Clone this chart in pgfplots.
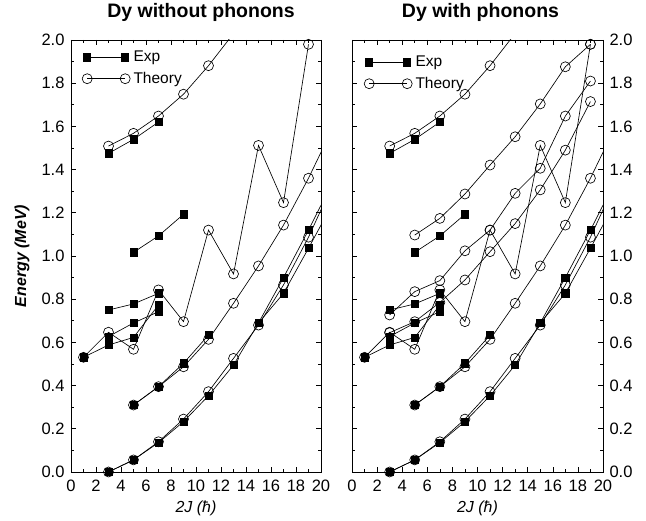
\documentclass[border=0pt]{standalone}
\usepackage{fontspec}
\setmainfont{Liberation Sans}
\usepackage{pgfplots}
\pgfplotsset{compat=1.18}

\pgfplotsset{
  th/.style={black, line width=0.65pt, mark=o, mark size=5pt, mark options={solid, line width=0.65pt}},
  ex/.style={black, line width=0.65pt, mark=square*, mark size=3.6pt, mark options={solid, fill=black}},
  ext/.style={black, line width=0.65pt, no marks},
  panel/.style={
    scale only axis, width=250pt, height=432pt,
    xmin=0, xmax=20, ymin=0, ymax=2,
    xtick={0,2,4,6,8,10,12,14,16,18,20}, minor x tick num=1,
    ytick={0,0.2,0.4,0.6,0.8,1.0,1.2,1.4,1.6,1.8,2.0}, minor y tick num=1,
    tick align=inside, tick pos=both,
    major tick length=5pt, minor tick length=3pt,
    every tick/.style={black, line width=0.6pt},
    axis line style={line width=0.8pt},
    clip mode=individual,
    /pgf/number format/assume math mode=true,
    yticklabel={\pgfmathprintnumber[fixed,fixed zerofill,precision=1,assume math mode=true]{\tick}},
    xticklabel={\pgfmathprintnumber[assume math mode=true]{\tick}},
    ticklabel style={font=\fontsize{16.5}{16.5}\selectfont},
    xticklabel style={anchor=base, yshift=-20pt},
    title style={font=\fontsize{19.5}{20}\selectfont\bfseries, at={(axis description cs:0.5,1)}, anchor=base, yshift=16pt},
    xlabel={\itshape 2J (ħ)},
    xlabel style={font=\fontsize{16}{16}\selectfont, at={(axis description cs:0.5,-0.0949)}, anchor=base},
    legend image code/.code={\draw[##1] plot coordinates {(0pt,0pt) (38pt,0pt)}; \path (44pt,0pt);},
    legend style={draw=none, fill=none, font=\fontsize{15.5}{17}\selectfont, anchor=north west, row sep=5pt},
    legend cell align=left,
  }
}

\begin{document}
\begin{tikzpicture}
\path (-71pt,-49pt) rectangle (575pt,472pt);

% ---------------- Left panel ----------------
\begin{axis}[panel, at={(0pt,0pt)}, anchor=south west,
  title={Dy without phonons}, title style={xshift=5pt},
  ylabel={\bfseries\itshape Energy (MeV)},
  ylabel style={font=\fontsize{16}{16}\selectfont, at={(axis description cs:-0.196,0.5)}, anchor=center},
  yticklabel style={xshift=-3pt},
  legend style={at={(axis description cs:0,1)}, xshift=8pt, yshift=-7pt},
]
\addlegendimage{ex}\addlegendentry{Exp}
\addlegendimage{th}\addlegendentry{Theory}
% theory
\addplot[th, forget plot] coordinates {(3,0) (5,0.056) (7,0.14) (9,0.245) (11,0.372) (13,0.526) (15,0.68) (17,0.866) (19,1.087)};
\addplot[ext, forget plot] coordinates {(19,1.087) (21,1.34)};
\addplot[th, forget plot] coordinates {(5,0.31) (7,0.395) (9,0.487) (11,0.614) (13,0.781) (15,0.954) (17,1.143) (19,1.36)};
\addplot[ext, forget plot] coordinates {(19,1.36) (21,1.6)};
\addplot[th, forget plot] coordinates {(3,1.509) (5,1.568) (7,1.648) (9,1.749) (11,1.881)};
\addplot[ext, forget plot] coordinates {(11,1.881) (13,2.03)};
\addplot[th, forget plot] coordinates {(1,0.531) (3,0.647) (5,0.568) (7,0.843) (9,0.696) (11,1.12) (13,0.917) (15,1.512) (17,1.247) (19,1.98)};
% experiment
\addplot[ex, forget plot] coordinates {(3,0) (5,0.056) (7,0.136) (9,0.233) (11,0.353) (13,0.495) (15,0.69) (17,0.90) (19,1.12)};
\addplot[ext, forget plot] coordinates {(19,1.12) (21,1.35)};
\addplot[ex, forget plot] coordinates {(15,0.69) (17,0.827) (19,1.036)};
\addplot[ext, forget plot] coordinates {(19,1.036) (21,1.25)};
\addplot[ex, forget plot] coordinates {(5,0.31) (7,0.395) (9,0.503) (11,0.634)};
\addplot[ex, forget plot] coordinates {(3,1.475) (5,1.54) (7,1.62)};
\addplot[ex, forget plot] coordinates {(5,1.017) (7,1.093) (9,1.193)};
\addplot[ex, forget plot] coordinates {(3,0.75) (5,0.778) (7,0.827)};
\addplot[ex, forget plot] coordinates {(1,0.531) (3,0.588) (5,0.623) (7,0.773)};
\addplot[ex, forget plot] coordinates {(3,0.627) (5,0.69) (7,0.742)};
\end{axis}

% ---------------- Right panel ----------------
\begin{axis}[panel, at={(281pt,0pt)}, anchor=south west, width=251pt,
  title={Dy with phonons}, title style={xshift=3pt},
  yticklabel pos=right,
  yticklabel style={xshift=3pt},
  legend style={at={(axis description cs:0,1)}, xshift=9pt, yshift=-12pt},
]
\addlegendimage{ex}\addlegendentry{Exp}
\addlegendimage{th}\addlegendentry{Theory}
% theory
\addplot[th, forget plot] coordinates {(3,0) (5,0.056) (7,0.14) (9,0.245) (11,0.372) (13,0.526) (15,0.68) (17,0.866) (19,1.087)};
\addplot[ext, forget plot] coordinates {(19,1.087) (21,1.34)};
\addplot[th, forget plot] coordinates {(5,0.31) (7,0.395) (9,0.487) (11,0.614) (13,0.781) (15,0.954) (17,1.143) (19,1.36)};
\addplot[ext, forget plot] coordinates {(19,1.36) (21,1.6)};
\addplot[th, forget plot] coordinates {(3,1.509) (5,1.568) (7,1.648) (9,1.749) (11,1.881)};
\addplot[ext, forget plot] coordinates {(11,1.881) (13,2.03)};
\addplot[th, forget plot] coordinates {(1,0.531) (3,0.647) (5,0.568) (7,0.843) (9,0.696) (11,1.12) (13,0.917) (15,1.512) (17,1.247) (19,1.98)};
\addplot[th, forget plot] coordinates {(5,1.097) (7,1.174) (9,1.287) (11,1.421) (13,1.552) (15,1.704) (17,1.876) (19,1.98)};
\addplot[th, forget plot] coordinates {(3,0.727) (5,0.835) (7,0.886) (9,1.024) (11,1.12) (13,1.29) (15,1.406) (17,1.648) (19,1.81)};
\addplot[th, forget plot] coordinates {(3,0.645) (5,0.696) (7,0.785) (9,0.889) (11,1.02) (13,1.15) (15,1.306) (17,1.49) (19,1.715)};
% experiment
\addplot[ex, forget plot] coordinates {(3,0) (5,0.056) (7,0.136) (9,0.233) (11,0.353) (13,0.495) (15,0.69) (17,0.90) (19,1.12)};
\addplot[ext, forget plot] coordinates {(19,1.12) (21,1.35)};
\addplot[ex, forget plot] coordinates {(15,0.69) (17,0.827) (19,1.036)};
\addplot[ext, forget plot] coordinates {(19,1.036) (21,1.25)};
\addplot[ex, forget plot] coordinates {(5,0.31) (7,0.395) (9,0.503) (11,0.634)};
\addplot[ex, forget plot] coordinates {(3,1.475) (5,1.54) (7,1.62)};
\addplot[ex, forget plot] coordinates {(5,1.017) (7,1.093) (9,1.193)};
\addplot[ex, forget plot] coordinates {(3,0.75) (5,0.778) (7,0.827)};
\addplot[ex, forget plot] coordinates {(1,0.531) (3,0.588) (5,0.623) (7,0.773)};
\addplot[ex, forget plot] coordinates {(3,0.627) (5,0.69) (7,0.742)};
\end{axis}
\end{tikzpicture}
\end{document}
